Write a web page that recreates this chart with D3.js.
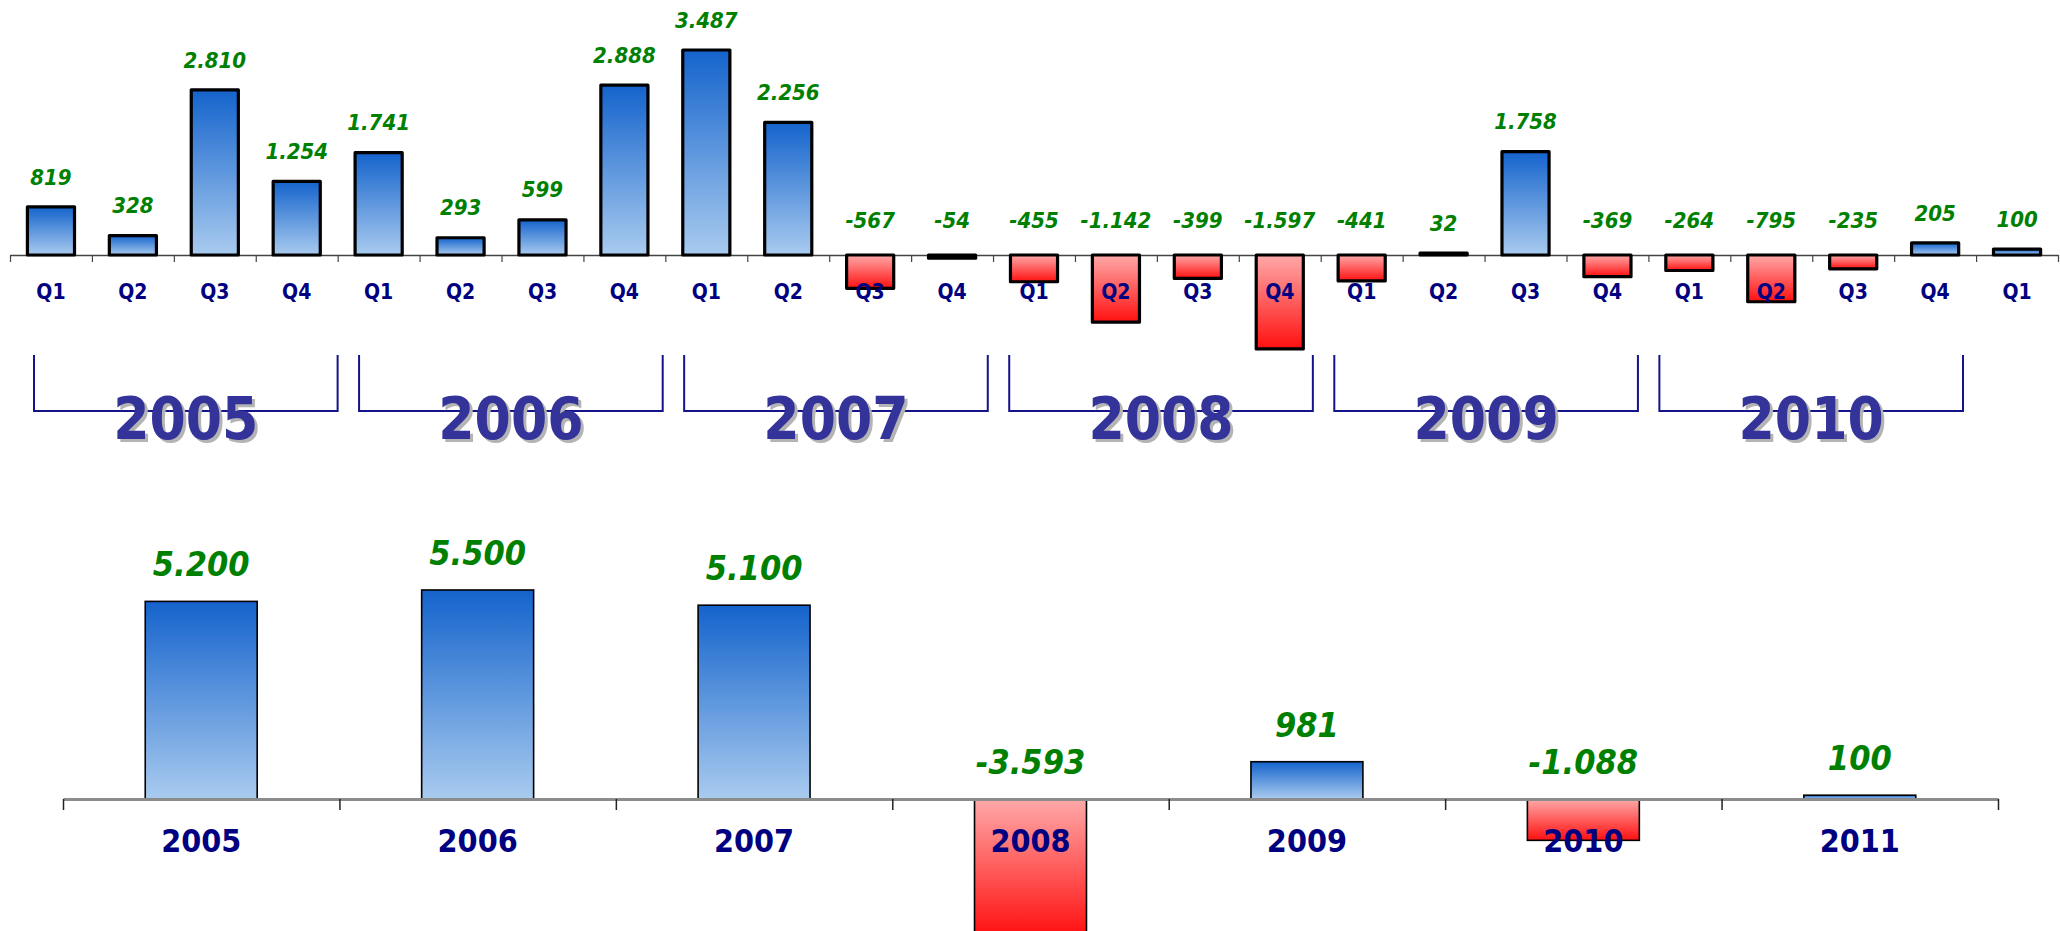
<!DOCTYPE html>
<html>
<head>
<meta charset="utf-8">
<script src="https://cdn.jsdelivr.net/npm/d3@7"></script>
<style>
  body { margin: 0; background: #fff; }
  svg { display: block; }
  text { font-family: "DejaVu Sans Condensed", "DejaVu Sans", sans-serif; font-stretch: condensed; font-weight: bold; }
</style>
</head>
<body>
<svg id="chart"></svg>
<script>
// quarterly results
const quarterLabels = ["Q1","Q2","Q3","Q4","Q1","Q2","Q3","Q4","Q1","Q2","Q3","Q4","Q1","Q2","Q3","Q4","Q1","Q2","Q3","Q4","Q1","Q2","Q3","Q4","Q1"]
const quarterValues = [819, 328, 2810, 1254, 1741, 293, 599, 2888, 3487, 2256, -567, -54, -455, -1142, -399, -1597, -441, 32, 1758, -369, -264, -795, -235, 205, 100]
const bracketYears = ["2005","2006","2007","2008","2009","2010"]

// yearly totals
const years = ["2005","2006","2007","2008","2009","2010","2011"]
const yearValues = [5200, 5500, 5100, -3593, 981, -1088, 100]

const W = 2060, H = 931
const svg = d3.select("#chart").attr("width", W).attr("height", H)

const fmt = d3.formatLocale({decimal: ",", thousands: ".", grouping: [3], currency: ["", ""], minus: "-"}).format(",d")

// gradients
const defs = svg.append("defs")
function grad(id, c0, c1) {
    const g = defs.append("linearGradient").attr("id", id)
        .attr("x1", 0).attr("y1", 0).attr("x2", 0).attr("y2", 1)
    g.append("stop").attr("offset", "0%").attr("stop-color", c0)
    g.append("stop").attr("offset", "100%").attr("stop-color", c1)
}
grad("blue", "#1463cc", "#a9cbef")
grad("red", "#ffa9a9", "#ff1010")

const green = "#008000", navy = "#000080"

// ---------- upper chart (quarters)
const base1 = 255
const xTop = d3.scaleBand()
    .domain(d3.range(quarterValues.length))
    .range([10, 2058])
const yTop = d3.scaleLinear()
    .domain([0, d3.max(quarterValues)])
    .range([base1, 50])
const bw1 = xTop.bandwidth() * 0.575

const upper = svg.append("g")

upper.append("g")
    .attr("transform", `translate(0,${base1})`)
    .call(d3.axisBottom(d3.scaleLinear().domain([0, quarterValues.length]).range(xTop.range()))
        .tickValues(d3.range(quarterValues.length + 1))
        .tickSize(7).tickSizeOuter(0).tickFormat(""))
    .call(g => g.select(".domain").attr("stroke", "#444").attr("stroke-width", 1.5))
    .call(g => g.selectAll(".tick line").attr("stroke", "#444").attr("stroke-width", 1.2))

upper.selectAll("rect.bar")
    .data(quarterValues)
    .join("rect")
    .attr("class", "bar")
    .attr("x", (d, i) => xTop(i) + (xTop.bandwidth() - bw1) / 2)
    .attr("y", d => yTop(Math.max(0, d)))
    .attr("width", bw1)
    .attr("height", d => Math.abs(yTop(d) - yTop(0)))
    .attr("fill", d => d >= 0 ? "url(#blue)" : "url(#red)")
    .attr("stroke", "#000")
    .attr("stroke-width", 3.2)
    .attr("stroke-linejoin", "round")

upper.selectAll("text.val")
    .data(quarterValues)
    .join("text")
    .attr("class", "val")
    .attr("x", (d, i) => xTop(i) + xTop.bandwidth() / 2)
    .attr("y", d => d >= 0 ? yTop(d) - 30 : base1 - 35)
    .attr("dy", "0.35em")
    .attr("text-anchor", "middle")
    .attr("fill", green)
    .attr("font-style", "italic")
    .attr("font-size", 22)
    .text(d => fmt(d))

upper.selectAll("text.q")
    .data(quarterLabels)
    .join("text")
    .attr("class", "q")
    .attr("x", (d, i) => xTop(i) + xTop.bandwidth() / 2)
    .attr("y", 292)
    .attr("dy", "0.35em")
    .attr("text-anchor", "middle")
    .attr("fill", navy)
    .attr("font-size", 21)
    .text(d => d)

// year brackets
const xBracket = d3.scaleBand()
    .domain(bracketYears)
    .range([34, 1963])
    .paddingInner(0.066)

upper.selectAll("path.bracket")
    .data(bracketYears)
    .join("path")
    .attr("class", "bracket")
    .attr("d", d => `M${xBracket(d)},355V411H${xBracket(d) + xBracket.bandwidth()}V355`)
    .attr("fill", "none")
    .attr("stroke", "#14148a")
    .attr("stroke-width", 2)

upper.selectAll("text.yshadow")
    .data(bracketYears)
    .join("text")
    .attr("class", "yshadow")
    .attr("x", d => xBracket(d) + xBracket.bandwidth() / 2 + 3)
    .attr("y", 442)
    .attr("text-anchor", "middle")
    .attr("fill", "#b4b4b4")
    .attr("font-size", 58)
    .text(d => d)

upper.selectAll("text.yr")
    .data(bracketYears)
    .join("text")
    .attr("class", "yr")
    .attr("x", d => xBracket(d) + xBracket.bandwidth() / 2)
    .attr("y", 439)
    .attr("text-anchor", "middle")
    .attr("fill", "#333399")
    .attr("font-size", 58)
    .text(d => d)

// ---------- lower chart (years)
const base2 = 799
const xBot = d3.scaleBand()
    .domain(years)
    .range([63, 1998])
const yBot = d3.scaleLinear()
    .domain([0, d3.max(yearValues)])
    .range([base2, 590])
const bw2 = xBot.bandwidth() * 0.405

const lower = svg.append("g")

lower.selectAll("rect.bar")
    .data(yearValues)
    .join("rect")
    .attr("class", "bar")
    .attr("x", (d, i) => xBot(years[i]) + (xBot.bandwidth() - bw2) / 2)
    .attr("y", d => yBot(Math.max(0, d)))
    .attr("width", bw2)
    .attr("height", d => Math.abs(yBot(d) - yBot(0)))
    .attr("fill", d => d >= 0 ? "url(#blue)" : "url(#red)")
    .attr("stroke", "#000")
    .attr("stroke-width", 1.6)

lower.append("g")
    .attr("transform", `translate(0,${base2})`)
    .call(d3.axisBottom(d3.scaleLinear().domain([0, years.length]).range(xBot.range()))
        .tickValues(d3.range(years.length + 1))
        .tickSize(11).tickSizeOuter(0).tickFormat(""))
    .call(g => g.select(".domain").attr("stroke", "#8c8c8c").attr("stroke-width", 3))
    .call(g => g.selectAll(".tick line").attr("stroke", "#222").attr("stroke-width", 1.5))

lower.selectAll("text.val")
    .data(yearValues)
    .join("text")
    .attr("class", "val")
    .attr("x", (d, i) => xBot(years[i]) + xBot.bandwidth() / 2)
    .attr("y", d => d >= 0 ? yBot(d) - 37 : base2 - 37)
    .attr("dy", "0.35em")
    .attr("text-anchor", "middle")
    .attr("fill", green)
    .attr("font-style", "italic")
    .attr("font-size", 34)
    .text(d => fmt(d))

lower.selectAll("text.yl")
    .data(years)
    .join("text")
    .attr("class", "yl")
    .attr("x", d => xBot(d) + xBot.bandwidth() / 2)
    .attr("y", 841)
    .attr("dy", "0.35em")
    .attr("text-anchor", "middle")
    .attr("fill", navy)
    .attr("font-size", 32)
    .text(d => d)
</script>
</body>
</html>
